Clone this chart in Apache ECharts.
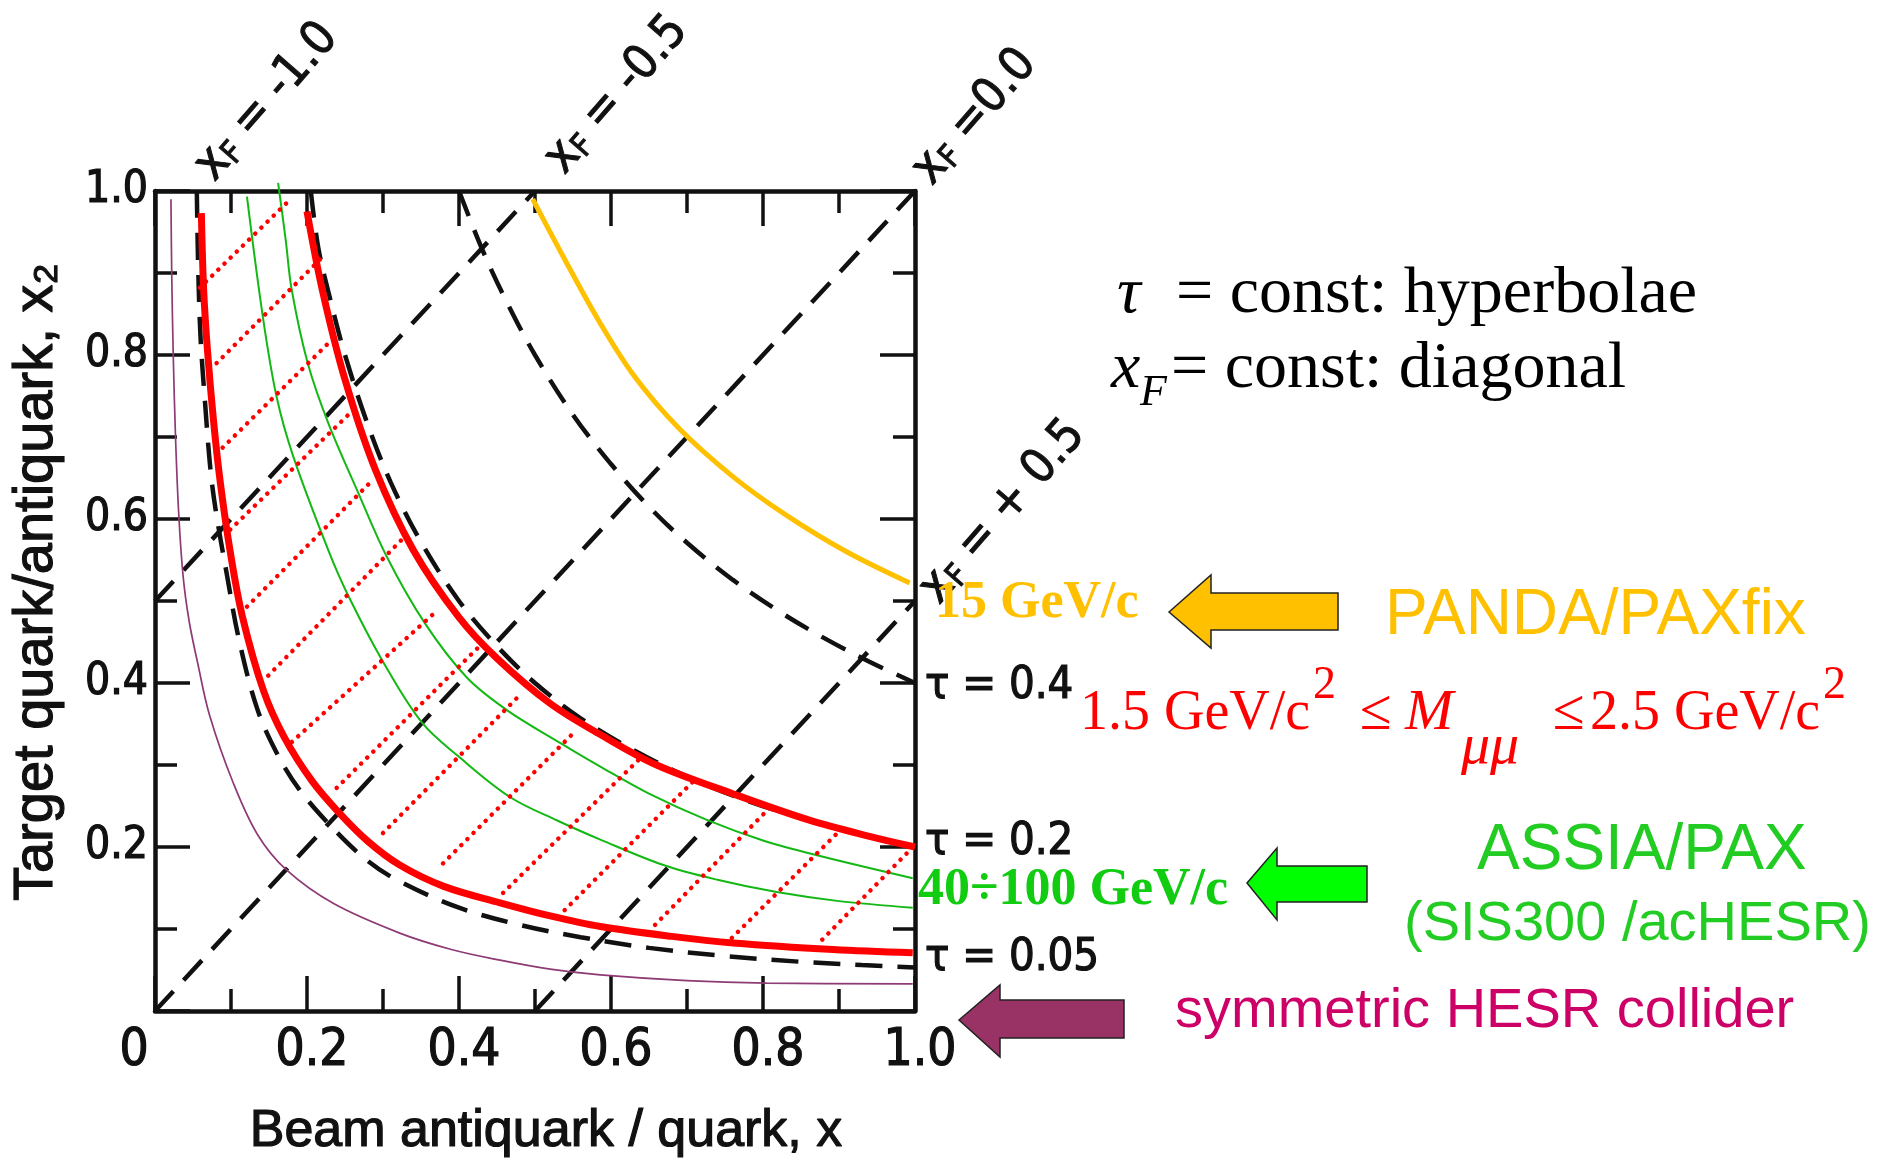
<!DOCTYPE html>
<html><head><meta charset="utf-8">
<script src="https://cdn.jsdelivr.net/npm/echarts@6/dist/echarts.min.js"></script>
<style>html,body{margin:0;padding:0;background:#fff}#c{width:1894px;height:1163px}</style>
</head><body><div id="c"></div>
<script>
// ---- tick labels ----
const xTickLabels = ['0', '0.2', '0.4', '0.6', '0.8', '1.0'];
const yTickLabels = ['', '0.2', '0.4', '0.6', '0.8', '1.0'];
const tauLabels = ['τ = 0.4', 'τ = 0.2', 'τ = 0.05'];
const xfLabels = [' = -1.0', ' = -0.5', ' =0.0', ' = + 0.5'];

// ---- τ = const dashed hyperbolae (x, x2) ----
const tau04 = [[0.40,1.0],[0.43,0.93],[0.46,0.87],[0.50,0.80],[0.55,0.727],[0.60,0.667],[0.65,0.615],[0.70,0.571],[0.76,0.526],[0.82,0.488],[0.88,0.455],[0.94,0.426],[1.0,0.40]];
const tau02 = [[0.205,1.0],[0.215,0.93],[0.23,0.87],[0.25,0.80],[0.28,0.715],[0.31,0.645],[0.35,0.572],[0.40,0.50],[0.45,0.445],[0.50,0.40],[0.56,0.357],[0.63,0.318],[0.70,0.286],[0.78,0.256],[0.86,0.233],[0.93,0.215],[1.0,0.20]];
const tau005 = [[0.055,1.0],[0.057,0.90],[0.060,0.82],[0.066,0.74],[0.073,0.66],[0.08,0.61],[0.095,0.53],[0.11,0.455],[0.134,0.37],[0.16,0.315],[0.19,0.27],[0.235,0.222],[0.28,0.183],[0.322,0.158],[0.40,0.126],[0.48,0.105],[0.56,0.09],[0.65,0.077],[0.75,0.067],[0.85,0.06],[0.93,0.056],[1.0,0.053]];
// ---- x_F = const dashed diagonals ----
const xfMinus05 = [[0,0.5],[0.5,1.0]];
const xfZero = [[0,0],[1.0,1.0]];
const xfPlus05 = [[0.5,0],[1.0,0.5]];

// ---- coloured curves ----
const redOuter = [[0.20,0.975],[0.22,0.88],[0.25,0.77],[0.29,0.66],[0.34,0.562],[0.40,0.48],[0.45,0.43],[0.52,0.375],[0.59,0.335],[0.66,0.30],[0.76,0.265],[0.86,0.233],[0.94,0.213],[1.0,0.200]];
const redInner = [[0.061,0.973],[0.064,0.88],[0.069,0.806],[0.077,0.72],[0.086,0.644],[0.099,0.56],[0.115,0.481],[0.143,0.39],[0.170,0.334],[0.207,0.28],[0.243,0.241],[0.28,0.207],[0.322,0.178],[0.38,0.152],[0.454,0.132],[0.52,0.116],[0.586,0.103],[0.68,0.091],[0.761,0.083],[0.892,0.075],[0.997,0.071]];
const green100 = [[0.162,1.01],[0.172,0.94],[0.18,0.879],[0.201,0.79],[0.228,0.717],[0.266,0.635],[0.305,0.554],[0.355,0.473],[0.41,0.407],[0.463,0.367],[0.533,0.327],[0.586,0.298],[0.65,0.265],[0.726,0.233],[0.80,0.208],[0.871,0.19],[0.997,0.162]];
const green40 = [[0.121,0.993],[0.142,0.846],[0.16,0.749],[0.182,0.676],[0.228,0.562],[0.254,0.507],[0.30,0.426],[0.351,0.352],[0.40,0.31],[0.467,0.261],[0.53,0.232],[0.586,0.209],[0.669,0.178],[0.74,0.16],[0.818,0.145],[0.90,0.134],[0.997,0.126]];
const collider = [[0.021,0.99],[0.022,0.90],[0.024,0.80],[0.027,0.70],[0.031,0.61],[0.037,0.53],[0.045,0.475],[0.056,0.425],[0.072,0.36],[0.103,0.278],[0.135,0.215],[0.173,0.172],[0.235,0.131],[0.322,0.095],[0.39,0.075],[0.454,0.062],[0.52,0.051],[0.586,0.044],[0.70,0.037],[0.805,0.034],[0.997,0.033]];
const panda15 = [[0.497,0.99],[0.54,0.915],[0.585,0.84],[0.63,0.775],[0.69,0.71],[0.76,0.652],[0.83,0.605],[0.91,0.56],[0.993,0.522]];
// ---- red dotted hatching (lower end, upper end) ----
const redHatch = [
  [[0.059,0.882],[0.175,0.987]],
  [[0.081,0.790],[0.221,0.920]],
  [[0.089,0.687],[0.230,0.816]],
  [[0.099,0.587],[0.261,0.733]],
  [[0.121,0.493],[0.287,0.648]],
  [[0.149,0.409],[0.326,0.576]],
  [[0.180,0.328],[0.372,0.489]],
  [[0.239,0.272],[0.425,0.443]],
  [[0.300,0.217],[0.483,0.388]],
  [[0.379,0.180],[0.555,0.343]],
  [[0.458,0.144],[0.636,0.306]],
  [[0.539,0.123],[0.707,0.279]],
  [[0.658,0.105],[0.809,0.248]],
  [[0.759,0.089],[0.899,0.218]],
  [[0.878,0.087],[0.991,0.194]]
];

const SCAN = "'Liberation Sans Narrow','DejaVu Sans Condensed','Liberation Sans',sans-serif";
const SERIF = "'Liberation Serif','Times New Roman',serif";
const SANS = "'Liberation Sans',Arial,sans-serif";
const INK = '#111';

function ln(name, data, color, width, type, extra) {
  return Object.assign({
    name, type: 'line', data, showSymbol: false, symbol: 'none', smooth: 0.35,
    silent: true, animation: false,
    lineStyle: { color, width, type: type || 'solid', cap: 'butt' }, z: 3
  }, extra || {});
}
const DASH = [27, 15];
const series = [
  ln('τ=0.4', tau04, INK, 4.5, DASH),
  ln('τ=0.2', tau02, INK, 4.5, DASH),
  ln('τ=0.05', tau005, INK, 4.5, DASH),
  ln('xF=-0.5', xfMinus05, INK, 4.5, DASH, { smooth: false }),
  ln('xF=0', xfZero, INK, 4.5, DASH, { smooth: false }),
  ln('xF=+0.5', xfPlus05, INK, 4.5, DASH, { smooth: false }),
  ln('collider', collider, '#8E3A74', 1.7, 'solid', { z: 4 }),
  ln('green40', green40, '#14B814', 2, 'solid', { z: 4 }),
  ln('green100', green100, '#14B814', 2, 'solid', { z: 4, clip: false }),
  ln('panda15', panda15, '#FFC000', 5, 'solid', { z: 5 }),
  ln('redInner', redInner, '#FF0000', 7, 'solid', { z: 6 }),
  ln('redOuter', redOuter, '#FF0000', 7, 'solid', { z: 6 })
];
redHatch.forEach((seg, i) => {
  series.push({
    name: 'hatch' + i, type: 'line', data: seg, showSymbol: false, symbol: 'none',
    silent: true, animation: false, z: 5,
    lineStyle: { color: '#FF0000', width: 4.5, type: [0.1, 8.5], cap: 'round' }
  });
});

const axisCommon = {
  type: 'value', min: 0, max: 1, interval: 0.2,
  axisLine: { show: true, onZero: false, lineStyle: { color: INK, width: 4.5 } },
  axisTick: { show: true, inside: true, length: 35, lineStyle: { color: INK, width: 3.5 } },
  minorTick: { show: true, splitNumber: 2, length: 22, lineStyle: { color: INK, width: 3.5 } },
  splitLine: { show: false }, minorSplitLine: { show: false }
};

function txt(text, x, y, size, family, fill, opts) {
  return Object.assign({
    type: 'text', x, y, silent: true, z: 20,
    style: Object.assign({ text, fontSize: size, fontFamily: family, fill, align: 'left', verticalAlign: 'middle' }, (opts && opts.style) || {})
  }, (opts && opts.el) || {});
}
const scanStroke = { stroke: INK, lineWidth: 1.2 };
const ROT = 49 * Math.PI / 180;
function xfLabel(i, cx, cy) {
  return {
    type: 'text', x: cx, y: cy, rotation: ROT, silent: true, z: 20,
    style: {
      text: '{x|x}{f|F}{t|' + xfLabels[i] + '}', align: 'center', verticalAlign: 'middle',
      fill: INK, stroke: INK, lineWidth: 1,
      rich: {
        x: { fontSize: 50, fontFamily: SCAN, fill: INK, lineHeight: 50 },
        f: { fontSize: 32, fontFamily: SCAN, fill: INK, lineHeight: 32, verticalAlign: 'bottom' },
        t: { fontSize: 48, fontFamily: SCAN, fill: INK, lineHeight: 50 }
      }
    }
  };
}

const graphic = [
  // axis titles
  { type: 'text', x: 37, y: 582, rotation: Math.PI / 2, silent: true,
    style: { text: 'Target quark/antiquark, x₂', fontSize: 56, fontFamily: SANS, fill: INK, stroke: INK, lineWidth: 1.2, align: 'center', verticalAlign: 'middle' } },
  txt('Beam antiquark / quark, x', 546, 1132, 52, SANS, INK, { style: Object.assign({ align: 'center' }, scanStroke) }),
  // x_F labels
  xfLabel(0, 267, 102), xfLabel(1, 617, 95), xfLabel(2, 975, 117), xfLabel(3, 1003, 512),
  // tau labels
  txt(tauLabels[0], 925, 686, 45, SCAN, INK, { style: scanStroke }),
  txt(tauLabels[1], 925, 842, 45, SCAN, INK, { style: scanStroke }),
  txt(tauLabels[2], 925, 958, 45, SCAN, INK, { style: scanStroke }),
  // explanation
  txt('τ', 1117, 295, 66, SERIF, '#000', { style: { fontStyle: 'italic' } }),
  txt('= const: hyperbolae', 1176, 295, 66, SERIF, '#000'),
  txt('x', 1111, 370, 66, SERIF, '#000', { style: { fontStyle: 'italic' } }),
  txt('F', 1140, 393, 44, SERIF, '#000', { style: { fontStyle: 'italic' } }),
  txt('= const: diagonal', 1171, 370, 66, SERIF, '#000'),
  // PANDA
  txt('15 GeV/c', 935, 604, 52, SERIF, '#FFC000', { style: { fontWeight: 'bold' } }),
  { type: 'polygon', silent: true, z: 15, shape: { points: [[1169,612],[1211,575],[1211,593],[1338,593],[1338,630],[1211,630],[1211,648]] },
    style: { fill: '#FFC000', stroke: '#222', lineWidth: 1.5 } },
  txt('PANDA/PAXfix', 1385, 616, 64, SANS, '#FFC000'),
  // mass range
  txt('1.5 GeV/c', 1080, 714, 56, SERIF, '#FF0000'),
  txt('2', 1313, 686, 46, SERIF, '#FF0000'),
  txt('≤', 1360, 714, 58, SERIF, '#FF0000'),
  txt('M', 1405, 714, 58, SERIF, '#FF0000', { style: { fontStyle: 'italic' } }),
  txt('μμ', 1461, 748, 58, SERIF, '#FF0000', { style: { fontStyle: 'italic' } }),
  txt('≤', 1553, 714, 58, SERIF, '#FF0000'),
  txt('2.5 GeV/c', 1590, 714, 56, SERIF, '#FF0000'),
  txt('2', 1823, 686, 46, SERIF, '#FF0000'),
  // ASSIA
  txt('40÷100 GeV/c', 918, 891, 52, SERIF, '#11CC11', { style: { fontWeight: 'bold' } }),
  { type: 'polygon', silent: true, z: 15, shape: { points: [[1247,883],[1277,848],[1277,866],[1367,866],[1367,902],[1277,902],[1277,920]] },
    style: { fill: '#00FF00', stroke: '#222', lineWidth: 1.5 } },
  txt('ASSIA/PAX', 1477, 851, 64, SANS, '#22CC22'),
  txt('(SIS300 /acHESR)', 1404, 925, 56, SANS, '#22CC22'),
  // collider
  { type: 'polygon', silent: true, z: 15, shape: { points: [[959,1020],[1000,985],[1000,1000],[1124,1000],[1124,1038],[1000,1038],[1000,1057]] },
    style: { fill: '#993366', stroke: '#222', lineWidth: 1.5 } },
  txt('symmetric HESR collider', 1175, 1012, 56, SANS, '#CC0066')
];

const chart = echarts.init(document.getElementById('c'), null, { renderer: 'canvas' });
chart.setOption({
  backgroundColor: '#fff',
  animation: false,
  grid: { left: 155, top: 191, width: 760, height: 820, containLabel: false },
  xAxis: [
    Object.assign({}, axisCommon, {
      position: 'bottom',
      axisLabel: {
        show: true, margin: 15, color: INK,
        formatter: v => { const i = Math.round(v / 0.2); return i === 0 ? '{z|' + xTickLabels[0] + '}' : '{a|' + xTickLabels[i] + '}'; },
        rich: {
          a: { fontSize: 51, lineHeight: 52, fontFamily: SCAN, color: INK, textBorderColor: INK, textBorderWidth: 1.2, padding: [0, 0, 0, 10] },
          z: { fontSize: 51, lineHeight: 52, fontFamily: SCAN, color: INK, textBorderColor: INK, textBorderWidth: 1.2, padding: [0, 42, 0, 0] }
        }
      }
    }),
    Object.assign({}, axisCommon, { position: 'top', axisLabel: { show: false } })
  ],
  yAxis: [
    Object.assign({}, axisCommon, {
      position: 'left',
      axisLabel: {
        show: true, margin: 7, color: INK, fontSize: 44, fontFamily: SCAN,
        textBorderColor: INK, textBorderWidth: 1.2,
        formatter: v => yTickLabels[Math.round(v / 0.2)]
      }
    }),
    Object.assign({}, axisCommon, { position: 'right', axisLabel: { show: false } })
  ],
  series: series,
  graphic: graphic
});
</script>
</body></html>
